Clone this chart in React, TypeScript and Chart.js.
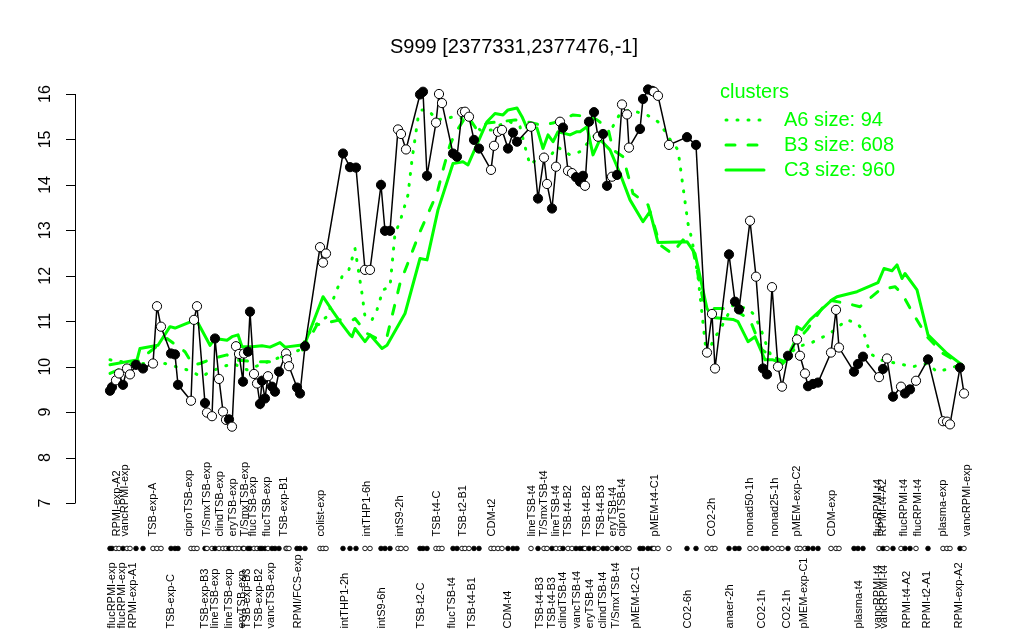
import React, { useEffect, useRef } from "react";
import { Chart, registerables } from "chart.js";

Chart.register(...registerables);

const TITLE = "S999 [2377331,2377476,-1]";
const FONT = '"Liberation Sans", Arial, Helvetica, sans-serif';
const GREEN = "#00FF00";

// sample positions along the condition axis
const samplePos = [
  0, 2, 6, 9, 13, 17, 20, 26, 33,
  43, 47, 51, 61, 65, 68, 81, 84, 87,
  95, 97, 102, 105, 109, 113, 116, 119, 122, 126, 129, 133,
  134, 138, 140, 144, 147, 150, 152, 155, 158, 162, 165, 169,
  176, 177, 179, 187, 190, 195, 210, 213, 216, 233, 240, 246,
  255, 260, 271, 275, 280, 288, 291, 296, 310, 313, 317, 326,
  329, 332, 343, 347, 352, 355, 359, 364, 369, 381, 384, 388,
  392, 398, 403, 407, 421, 428, 434, 437, 442, 446, 450, 453,
  458, 462, 466, 470, 473, 475, 479, 484, 488, 493, 497, 502,
  507, 512, 517, 519, 530, 533, 538, 542, 544, 548, 559, 577,
  586, 597, 602, 605, 619, 625, 629, 640, 646, 653, 657, 662,
  668, 672, 678, 687, 690, 695, 698, 703, 708, 721, 726, 729,
  744, 748, 753, 769, 773, 777, 783, 791, 795, 800, 806, 818,
  833, 837, 840, 850, 854,
];
const sampleValue = [
  9.47, 9.55, 9.7, 9.85, 9.6, 9.96, 9.83, 10.04, 9.96,
  10.07, 11.33, 10.88, 10.29, 10.27, 9.6, 9.25, 11.03, 11.33,
  9.2, 8.99, 8.91, 10.62, 9.73, 9.01, 8.83, 8.84, 8.68, 10.45, 10.28, 9.67,
  10.29, 10.33, 11.21, 9.84, 9.63, 9.18, 9.69, 9.3, 9.79, 9.56, 9.45, 9.89,
  10.29, 10.16, 10.01, 9.54, 9.41, 10.45, 12.63, 12.29, 12.49, 14.69, 14.39, 14.38,
  12.13, 12.13, 14.0, 12.99, 12.99, 15.22, 15.12, 14.78, 15.99, 16.05, 14.2, 15.37,
  16.0, 15.8, 14.69, 14.62, 15.6, 15.61, 15.5, 14.99, 14.8, 14.33, 14.86, 15.17,
  15.21, 14.8, 15.15, 14.95, 15.28, 13.7, 14.6, 14.02, 13.48, 14.4, 15.39, 15.26,
  14.31, 14.26, 14.17, 14.07, 14.2, 13.98, 15.39, 15.6, 15.06, 15.12, 13.98, 14.18,
  14.22, 15.77, 15.55, 14.82, 15.23, 15.89, 16.1, 16.07, 16.05, 15.96, 14.88, 15.05,
  14.88, 10.31, 11.16, 9.96, 12.47, 11.43, 11.26, 13.21, 11.98, 9.96, 9.83, 11.75,
  10.0, 9.56, 10.24, 10.6, 10.24, 9.85, 9.57, 9.62, 9.65, 10.31, 11.25, 10.42,
  9.89, 10.06, 10.22, 9.77, 9.95, 10.18, 9.34, 9.56, 9.41, 9.5, 9.69, 10.16,
  8.8, 8.79, 8.73, 9.98, 9.41,
];
// 1 = filled marker, 0 = open marker
const sampleFilled = [
  1, 1, 0, 0, 1, 0, 0, 1, 1,
  0, 0, 0, 1, 1, 1, 0, 0, 0,
  1, 0, 0, 1, 0, 0, 0, 1, 0, 0, 0, 1,
  0, 1, 1, 0, 0, 1, 1, 1, 0, 1, 1, 1,
  0, 0, 0, 1, 1, 1, 0, 0, 0, 1, 1, 1,
  0, 0, 1, 1, 1, 0, 0, 0, 1, 1, 1, 0,
  0, 0, 1, 1, 0, 0, 0, 1, 1, 0, 0, 0,
  0, 1, 1, 1, 0, 1, 0, 0, 1, 0, 0, 1,
  0, 0, 1, 1, 1, 0, 1, 1, 0, 1, 1, 0,
  1, 0, 0, 0, 1, 1, 1, 1, 0, 0, 0, 1,
  1, 0, 0, 0, 1, 1, 1, 0, 0, 1, 1, 0,
  0, 0, 1, 0, 0, 0, 1, 1, 1, 0, 0, 0,
  1, 1, 1, 0, 1, 0, 1, 0, 1, 1, 0, 1,
  0, 0, 0, 1, 0,
];

// cluster mean profiles
const a6Pos = [0, 23, 55, 77, 92, 100, 113, 123, 137, 163, 190, 203, 217, 223, 232, 239, 245, 252, 255, 262, 267, 273, 280, 285, 290, 298, 302, 308, 312, 318, 327, 337, 345, 358, 370, 382, 390, 400, 410, 415, 420, 430, 440, 447, 460, 470, 483, 502, 510, 520, 537, 550, 558, 568, 578, 582, 588, 592, 597, 603, 610, 623, 637, 643, 650, 657, 663, 673, 687, 700, 720, 737, 747, 753, 760, 770, 787, 803, 817, 827, 840, 852];
const a6Value = [10.15, 10.07, 10.07, 9.93, 9.78, 9.89, 10.0, 10.07, 9.93, 10.15, 10.37, 10.88, 11.1, 11.47, 11.98, 12.14, 12.6, 11.61, 11.1, 11.03, 11.25, 11.69, 11.76, 12.93, 13.19, 13.78, 14.55, 15.47, 15.65, 15.65, 15.43, 15.47, 15.5, 15.43, 15.21, 15.21, 15.32, 15.39, 15.28, 14.84, 14.44, 14.62, 14.62, 14.84, 14.66, 14.73, 15.06, 15.25, 15.57, 15.65, 15.54, 15.36, 15.06, 14.77, 13.15, 12.79, 11.98, 11.17, 10.15, 10.59, 10.81, 11.36, 11.28, 11.17, 10.88, 10.44, 10.15, 10.11, 10.44, 10.51, 10.73, 11.03, 10.95, 10.81, 10.29, 10.15, 10.07, 10.0, 10.07, 9.89, 9.96, 10.06];

const b3Pos = [0, 27, 57, 75, 83, 90, 103, 117, 123, 145, 160, 170, 193, 207, 230, 243, 245, 257, 267, 277, 290, 310, 327, 333, 340, 345, 357, 367, 377, 390, 405, 417, 430, 443, 463, 480, 487, 498, 503, 513, 523, 538, 550, 562, 573, 583, 593, 602, 613, 625, 640, 652, 662, 675, 683, 697, 718, 737, 750, 770, 785, 792, 803, 817, 833, 847, 852];
const b3Value = [9.85, 10.11, 10.62, 10.33, 10.04, 10.07, 10.18, 10.26, 10.15, 10.11, 10.11, 10.2, 10.37, 10.92, 11.03, 11.03, 11.06, 10.73, 10.62, 10.66, 11.83, 12.97, 13.81, 14.33, 14.88, 15.13, 15.54, 15.21, 15.36, 15.39, 15.43, 15.39, 15.32, 15.36, 15.54, 15.5, 15.43, 15.25, 14.77, 14.62, 13.81, 13.56, 12.68, 12.49, 12.79, 12.57, 11.47, 11.28, 11.28, 11.25, 11.03, 10.37, 10.22, 10.11, 10.47, 10.81, 11.47, 11.39, 11.32, 11.69, 11.76, 11.61, 11.17, 10.66, 10.29, 10.11, 10.04];

const c3Pos = [0, 27, 30, 48, 60, 65, 83, 88, 100, 105, 117, 122, 128, 132, 142, 152, 160, 170, 175, 190, 195, 213, 223, 230, 240, 242, 245, 255, 260, 272, 277, 295, 310, 317, 328, 343, 353, 358, 377, 385, 393, 398, 407, 412, 417, 427, 433, 438, 443, 448, 460, 467, 470, 477, 483, 490, 500, 510, 520, 533, 540, 548, 577, 585, 597, 603, 623, 628, 638, 645, 655, 663, 673, 683, 687, 692, 700, 722, 727, 747, 768, 774, 782, 787, 792, 795, 807, 818, 837, 852];
const c3Value = [10.04, 10.15, 10.4, 10.47, 10.88, 10.85, 11.01, 10.96, 10.47, 10.62, 10.58, 10.66, 10.7, 10.44, 10.44, 10.46, 10.43, 10.53, 10.43, 10.47, 10.51, 11.54, 11.21, 10.99, 10.7, 10.66, 10.84, 10.55, 10.7, 10.4, 10.47, 11.17, 12.38, 12.35, 13.45, 14.47, 14.51, 14.44, 15.39, 15.57, 15.54, 15.65, 15.69, 15.5, 15.25, 15.25, 14.8, 15.1, 14.95, 15.17, 15.1, 15.17, 15.17, 15.28, 14.66, 15.0, 14.77, 14.25, 13.67, 13.19, 13.41, 12.73, 12.75, 12.49, 11.28, 11.08, 11.04, 10.99, 10.55, 10.66, 10.15, 10.15, 10.07, 10.4, 10.88, 10.81, 11.03, 11.47, 11.54, 11.65, 11.85, 12.16, 12.11, 12.24, 11.94, 12.05, 11.69, 10.7, 10.29, 10.04];

const legendTitle = "clusters";
const legendNames = ["A6 size: 94", "B3 size: 608", "C3 size: 960"];
const legendDashes = [[1, 10], [9, 13], []];

const yTicks = [7, 8, 9, 10, 11, 12, 13, 14, 15, 16];

const topLabels = ["RPMI-exp-A2", "vancRPMI-exp", "TSB-exp-A", "ciproTSB-exp", "T/SmxTSB-exp", "clindTSB-exp", "eryTSB-exp", "T/SmxTSB-exp", "flucTSB-exp", "flucTSB-exp", "TSB-exp-B1", "colist-exp", "intTHP1-6h", "intS9-2h", "TSB-t4-C", "TSB-t2-B1", "CDM-t2", "lineTSB-t4", "T/SmxTSB-t4", "lineTSB-t4", "TSB-t4-B2", "TSB-t4-B2", "TSB-t4-B3", "eryTSB-t4", "ciproTSB-t4", "pMEM-t4-C1", "CO2-2h", "nonad50-1h", "nonad25-1h", "pMEM-exp-C2", "CDM-exp", "flucRPMI-t4", "RPMI-t4-A2", "flucRPMI-t4", "flucRPMI-t4", "plasma-exp", "vancRPMI-exp"];
const topLabelPos = [7, 15, 43, 79, 97, 110, 123, 135, 143, 157, 174, 211, 257, 290, 327, 353, 382, 422, 434, 446, 458, 477, 491, 503, 512, 545, 602, 640, 665, 687, 722, 768, 773, 794, 808, 833, 857];

const bottomLabels = ["flucRPMI-exp", "flucRPMI-exp", "RPMI-exp-A1", "TSB-exp-C", "TSB-exp-B3", "lineTSB-exp", "lineTSB-exp", "eryTSB-exp", "TSB-exp-B3", "TSB-exp-B2", "vancTSB-exp", "RPMI/FCS-exp", "intTHP1-2h", "intS9-6h", "TSB-t2-C", "flucTSB-t4", "TSB-t4-B1", "CDM-t4", "TSB-t4-B3", "TSB-t4-B3", "clindTSB-t4", "vancTSB-t4", "eryTSB-t4", "clindTSB-t4", "T/SmxTSB-t4", "pMEM-t2-C1", "CO2-6h", "anaer-2h", "CO2-1h", "CO2-1h", "pMEM-exp-C1", "plasma-t4", "vancRPMI-t4", "vancRPMI-t4", "RPMI-t4-A2", "RPMI-t2-A1", "RPMI-exp-A2"];
const bottomLabelPos = [2, 12, 23, 61, 95, 105, 119, 132, 137, 149, 161, 188, 235, 272, 311, 342, 362, 398, 430, 442, 453, 467, 480, 493, 506, 526, 578, 620, 652, 677, 694, 749, 768, 774, 797, 817, 849];

const DOT_ROW_LEVEL = 6;

const overlayPlugin = {
  id: "overlay",
  afterDraw(chart: any) {
    const ctx = chart.ctx as CanvasRenderingContext2D;
    const xs = chart.scales.x;
    const ys = chart.scales.y;
    const left = chart.chartArea.left;
    ctx.save();

    // y axis
    ctx.strokeStyle = "#000";
    ctx.lineWidth = 1;
    ctx.setLineDash([]);
    const yTop = ys.getPixelForValue(yTicks[yTicks.length - 1]);
    const yBot = ys.getPixelForValue(yTicks[0]);
    ctx.beginPath();
    ctx.moveTo(left + 0.5, yBot);
    ctx.lineTo(left + 0.5, yTop);
    yTicks.forEach((t) => {
      const py = Math.round(ys.getPixelForValue(t)) + 0.5;
      ctx.moveTo(left + 0.5, py);
      ctx.lineTo(left - 9, py);
    });
    ctx.stroke();
    ctx.fillStyle = "#000";
    ctx.font = `16px ${FONT}`;
    ctx.textAlign = "center";
    ctx.textBaseline = "middle";
    yTicks.forEach((t) => {
      const py = ys.getPixelForValue(t);
      ctx.save();
      ctx.translate(left - 29, py);
      ctx.rotate(-Math.PI / 2);
      ctx.fillText(String(t), 0, 0);
      ctx.restore();
    });

    // title
    ctx.font = `20px ${FONT}`;
    ctx.fillText(TITLE, 514, 47);

    // dot row
    const rowY = ys.getPixelForValue(DOT_ROW_LEVEL);
    samplePos.forEach((p, i) => {
      const px = xs.getPixelForValue(p);
      ctx.beginPath();
      ctx.arc(px, rowY, 2.3, 0, Math.PI * 2);
      ctx.fillStyle = sampleFilled[i] ? "#000" : "#fff";
      ctx.fill();
      ctx.lineWidth = 0.9;
      ctx.strokeStyle = "#000";
      ctx.stroke();
    });

    // condition labels
    ctx.fillStyle = "#000";
    ctx.font = `11px ${FONT}`;
    ctx.textAlign = "left";
    ctx.textBaseline = "middle";
    const drawLabels = (labels: string[], pos: number[], anchorY: number) => {
      labels.forEach((l, i) => {
        const px = xs.getPixelForValue(pos[i]);
        ctx.save();
        ctx.translate(px, anchorY);
        ctx.rotate(-Math.PI / 2);
        ctx.fillText(l, 0, 0);
        ctx.restore();
      });
    };
    drawLabels(topLabels, topLabelPos, rowY - 12);
    drawLabels(bottomLabels, bottomLabelPos, rowY + 80);

    // legend
    ctx.fillStyle = GREEN;
    ctx.strokeStyle = GREEN;
    ctx.font = `20px ${FONT}`;
    ctx.textAlign = "left";
    ctx.textBaseline = "middle";
    ctx.fillText(legendTitle, 720, 92);
    legendNames.forEach((name, i) => {
      const ly = 120 + 25 * i;
      ctx.beginPath();
      ctx.lineWidth = 3;
      ctx.lineCap = "round";
      ctx.setLineDash(legendDashes[i]);
      ctx.moveTo(726, ly);
      ctx.lineTo(764, ly);
      ctx.stroke();
      ctx.setLineDash([]);
      ctx.fillText(name, 784, ly);
    });
    ctx.restore();
  },
};

const toXY = (xs: number[], ys: number[]) => xs.map((x, i) => ({ x, y: ys[i] }));

export default function App() {
  const ref = useRef<HTMLCanvasElement | null>(null);
  useEffect(() => {
    if (!ref.current) return;
    const greenBase = {
      type: "line" as const,
      borderColor: GREEN,
      borderWidth: 3,
      pointRadius: 0,
      fill: false,
      tension: 0,
      borderCapStyle: "round" as const,
      borderJoinStyle: "round" as const,
    };
    const chart = new Chart(ref.current, {
      type: "line",
      data: {
        datasets: [
          {
            label: "samples",
            data: toXY(samplePos, sampleValue),
            borderColor: "#000",
            borderWidth: 1.5,
            pointRadius: 4.6,
            pointBorderWidth: 1,
            pointBorderColor: "#000",
            pointBackgroundColor: sampleFilled.map((f) => (f ? "#000" : "#fff")),
            tension: 0,
            order: 0,
          } as any,
          { ...greenBase, label: "A6", data: toXY(a6Pos, a6Value), borderDash: [1, 10], order: 1 } as any,
          { ...greenBase, label: "B3", data: toXY(b3Pos, b3Value), borderDash: [9, 13], order: 2 } as any,
          { ...greenBase, label: "C3", data: toXY(c3Pos, c3Value), order: 3 } as any,
        ],
      },
      options: {
        animation: false,
        responsive: true,
        maintainAspectRatio: false,
        events: [],
        layout: { padding: { left: 75, right: 24, top: 77.64, bottom: 120.64 } },
        scales: {
          x: { type: "linear", min: -35, max: 890, display: false },
          y: { type: "linear", min: 6.64, max: 16.36, display: false },
        },
        plugins: { legend: { display: false }, tooltip: { enabled: false }, title: { display: false } },
      },
      plugins: [overlayPlugin],
    });
    return () => chart.destroy();
  }, []);
  return (
    <div style={{ position: "absolute", left: 0, top: 0, width: 1024, height: 640, background: "#fff" }}>
      <canvas ref={ref} />
    </div>
  );
}
